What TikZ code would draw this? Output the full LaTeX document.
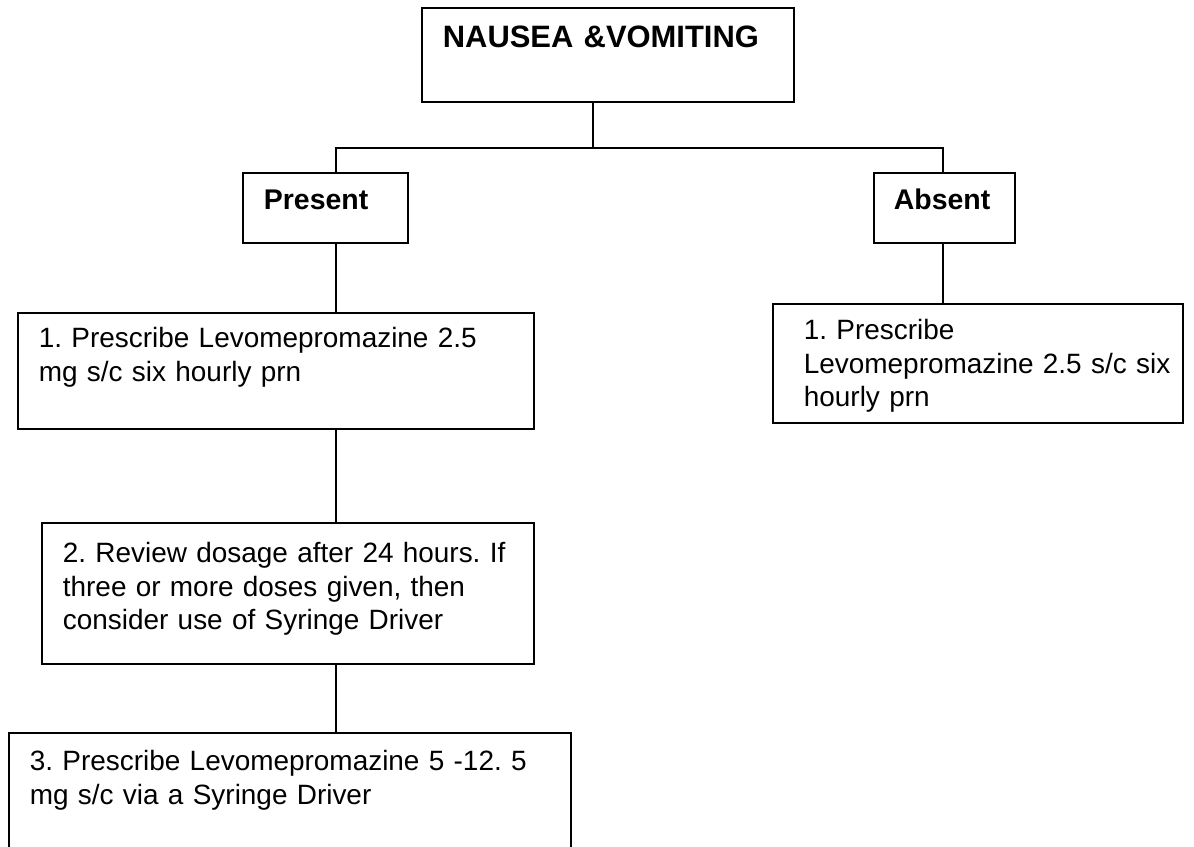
\documentclass[tikz,border=0pt]{standalone}
\usepackage{fontspec}
\setmainfont{Liberation Sans}
\frenchspacing
\usetikzlibrary{positioning,calc}

\tikzset{
flowbox/.style={draw, line width=1pt, anchor=north west, align=left,
  inner ysep=0pt, inner xsep=0.42cm, font=\fontsize{15.9}{18.9}\selectfont},
headbox/.style={flowbox, font=\fontsize{16.2}{19}\selectfont\bfseries},
link/.style={line width=1pt}
}

\begin{document}
\begin{tikzpicture}[x=0.02cm,y=-0.02cm]
\useasboundingbox (0,0) rectangle (1194,847);

% -------- Title card --------
\node[headbox, font=\fontsize{17.6}{21}\selectfont\bfseries,
text width=6.6cm, text height=0.8cm, text depth=1.08cm] (nausea) at (421,7)
{NAUSEA \&VOMITING};

% -------- Branch boxes --------
\node[headbox, text width=2.46cm, text height=0.74cm, text depth=0.66cm] (present) at (242,172)
{Present};
\node[headbox, inner xsep=0.40cm, text width=2.02cm, text height=0.74cm, text depth=0.66cm] (absent) at (873,172)
{Absent};

% -------- Present: steps --------
\node[flowbox, text width=9.48cm, text height=0.7cm, text depth=1.62cm] (stepone) at (17,312)
{1. Prescribe Levomepromazine 2.5\\mg s/c six hourly prn};
\node[flowbox, text width=9.0cm, text height=0.8cm, text depth=2.02cm] (steptwo) at (41,522)
{2. Review dosage after 24 hours. If\\three or more doses given, then\\consider use of Syringe Driver};
\node[flowbox, text width=10.4cm, text height=0.76cm, text depth=2.0cm] (stepthree) at (8,732)
{3. Prescribe Levomepromazine 5 -12. 5\\mg s/c via a Syringe Driver};

% -------- Absent: step --------
\node[flowbox, inner xsep=0.62cm, text width=6.96cm, text height=0.72cm, text depth=1.66cm] (absentstep) at (772,303)
{1. Prescribe\\\mbox{Levomepromazine 2.5 s/c six}\\hourly prn};

% -------- Connectors --------
\coordinate (hub) at (593,148);
\coordinate (leftrail) at (336,148);
\coordinate (rightrail) at (943,148);
\draw[link] (hub |- nausea.south) -- (hub);
\draw[link] (leftrail |- present.north) -- (leftrail) -- (rightrail) -- (rightrail |- absent.north);
\draw[link] (leftrail |- present.south) -- (leftrail |- stepone.north);
\draw[link] (leftrail |- stepone.south) -- (leftrail |- steptwo.north);
\draw[link] (leftrail |- steptwo.south) -- (leftrail |- stepthree.north);
\draw[link] (rightrail |- absent.south) -- (rightrail |- absentstep.north);

\end{tikzpicture}
\end{document}
